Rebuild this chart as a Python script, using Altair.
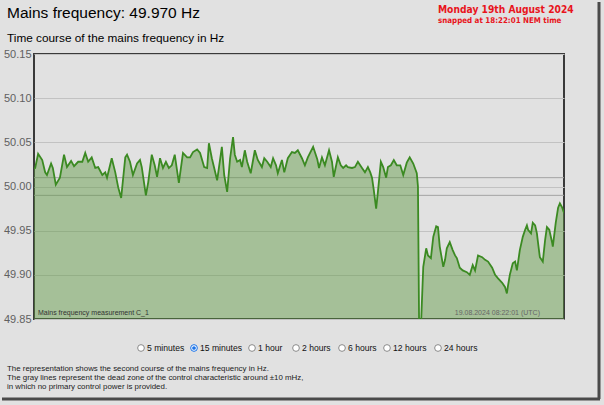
import altair as alt
import pandas as pd

# ---- data ----
seconds = [0, 2, 7, 14, 19, 22, 29, 32, 37, 44, 51, 56, 63, 68, 75, 82, 87, 92, 98, 104,
           109, 116, 121, 124, 132, 138, 143, 148, 155, 158, 163, 168, 175, 180, 183, 190,
           194, 200, 205, 209, 214, 219, 224, 229, 234, 239, 246, 253, 260, 265, 270, 277,
           282, 289, 294, 297, 302, 311, 314, 319, 323, 328, 333, 338, 341, 345, 350, 353,
           358, 362, 368, 375, 380, 387, 391, 396, 402, 406, 411, 414, 421, 425, 431, 438,
           443, 448, 455, 460, 465, 474, 481, 484, 489, 494, 501, 506, 509, 516, 521, 525,
           530, 533, 540, 545, 550, 557, 562, 567, 571, 574, 577, 581, 584, 589, 593, 598,
           601, 606, 611, 616, 622, 627, 633, 638, 644, 650, 652, 654, 657, 661, 666, 669,
           674, 678, 683, 686, 689, 695, 698, 701, 706, 711, 715, 718, 723, 728, 735, 740,
           745, 749, 754, 761, 766, 771, 778, 783, 788, 795, 800, 803, 805, 808, 813, 817,
           820, 825, 830, 834, 837, 839, 844, 847, 851, 854, 856, 859, 864, 868, 871, 875,
           880, 881, 886, 890, 893, 897, 900]
freq = [50.020, 50.021, 50.037, 50.030, 50.016, 50.013, 50.026, 50.021, 50.002, 50.010,
        50.036, 50.022, 50.029, 50.023, 50.028, 50.028, 50.038, 50.028, 50.033, 50.021,
        50.022, 50.013, 50.016, 50.010, 50.032, 50.016, 49.999, 49.987, 50.033, 50.036,
        50.028, 50.013, 50.026, 50.030, 50.022, 49.990, 50.005, 50.036, 50.024, 50.011,
        50.032, 50.021, 50.028, 50.021, 50.024, 50.036, 50.004, 50.038, 50.033, 50.033,
        50.039, 50.042, 50.038, 50.022, 50.021, 50.049, 50.032, 50.007, 50.021, 50.045,
        50.013, 49.994, 50.032, 50.056, 50.036, 50.028, 50.030, 50.022, 50.041, 50.028,
        50.015, 50.041, 50.030, 50.022, 50.032, 50.028, 50.022, 50.032, 50.024, 50.015,
        50.030, 50.016, 50.032, 50.039, 50.038, 50.041, 50.032, 50.024, 50.033, 50.045,
        50.031, 50.021, 50.033, 50.024, 50.041, 50.028, 50.011, 50.033, 50.024, 50.021,
        50.024, 50.022, 50.021, 50.022, 50.028, 50.021, 50.016, 50.022, 50.016, 50.010,
        49.996, 49.975, 49.994, 50.028, 50.022, 50.010, 50.022, 50.024, 50.030, 50.024,
        50.024, 50.013, 50.027, 50.033, 50.026, 50.015, 50.000, 49.840, 49.840, 49.909,
        49.930, 49.922, 49.919, 49.943, 49.955, 49.954, 49.932, 49.909, 49.917, 49.930,
        49.937, 49.928, 49.922, 49.919, 49.908, 49.905, 49.903, 49.900, 49.911, 49.905,
        49.922, 49.920, 49.917, 49.915, 49.908, 49.900, 49.896, 49.891, 49.886, 49.879,
        49.888, 49.900, 49.913, 49.915, 49.905, 49.928, 49.943, 49.951, 49.956, 49.951,
        49.947, 49.959, 49.956, 49.947, 49.936, 49.920, 49.915, 49.940, 49.954, 49.951,
        49.936, 49.932, 49.959, 49.976, 49.981, 49.976, 49.970]
dead_zone = [50.01, 49.99]
y_ticks = [49.85, 49.90, 49.95, 50.00, 50.05, 50.10, 50.15]
radio_labels = ["5 minutes", "15 minutes", "1 hour", "2 hours", "6 hours", "12 hours", "24 hours"]
selected = "15 minutes"

df = pd.DataFrame({"t": seconds, "f": freq})
dz = pd.DataFrame({"f": dead_zone})

W, H = 530, 265
BG = "#e1e1e1"
FONT = "Liberation Sans"

x_enc = alt.X("t:Q", scale=alt.Scale(domain=[0, 900], nice=False), axis=None)
y_scale = alt.Scale(domain=[49.85, 50.15], nice=False, zero=False)
y_axis = alt.Axis(values=y_ticks, format=".2f", grid=True, gridColor="#c2c2c2",
                  domain=False, ticks=False, labelColor="#606060", labelFontSize=11,
                  labelFont=FONT, labelPadding=3, title=None)

base = alt.Chart(df)
area = base.mark_area(color="#5d9a40", opacity=0.45, clip=True).encode(
    x=x_enc, y=alt.Y("f:Q", scale=y_scale, axis=y_axis))
line = base.mark_line(color="#3b8a22", strokeWidth=1.8, clip=True).encode(
    x=x_enc, y=alt.Y("f:Q", scale=y_scale))
rules = alt.Chart(dz).mark_rule(color="#a3a3a3", strokeWidth=1).encode(
    y=alt.Y("f:Q", scale=y_scale))

one = alt.Data(values=[{"a": 1}])

def txt(text, x, y, size, color="#000000", weight="normal", align="left",
        baseline="alphabetic", font=FONT):
    return alt.Chart(one).mark_text(
        text=text, fontSize=size, color=color, fontWeight=weight, align=align,
        baseline=baseline, font=font).encode(x=alt.value(x), y=alt.value(y))

layers = [rules, area, line]

# headings (positions relative to the plot origin)
layers.append(txt("Mains frequency: 49.970 Hz", -27, -36, 15.5))
layers.append(txt("Time course of the mains frequency in Hz", -27, -12, 11.8))
layers.append(txt("Monday 19th August 2024", 404, -44, 10.2, color="#e8141c",
                  weight="bold", baseline="middle", font="DejaVu Sans Condensed"))
layers.append(txt("snapped at 18:22:01 NEM time", 404, -33, 7.9, color="#e8141c",
                  weight="bold", baseline="middle", font="DejaVu Sans Condensed"))
# in-plot captions
layers.append(txt("Mains frequency measurement C_1", 4, 259, 7, color="#333333",
                  baseline="middle"))
layers.append(txt("19.08.2024 08:22:01 (UTC)", 506, 259, 7, color="#666666",
                  align="right", baseline="middle"))

# radio buttons row
circle_x = [107, 160, 218, 262, 308, 353, 404]
ry = 294
for lab, cx in zip(radio_labels, circle_x):
    is_sel = lab == selected
    layers.append(alt.Chart(one).mark_point(
        shape="circle", size=45, filled=True, fill="#ffffff",
        stroke="#1a73e8" if is_sel else "#8a8a8a", strokeWidth=1, opacity=1
    ).encode(x=alt.value(cx), y=alt.value(ry)))
    if is_sel:
        layers.append(alt.Chart(one).mark_point(
            shape="circle", size=14, filled=True, color="#1a73e8", opacity=1
        ).encode(x=alt.value(cx), y=alt.value(ry)))
    layers.append(txt(lab, cx + 6, ry, 8.6, color="#111111", baseline="middle"))

# footnote
notes = ["The representation shows the second course of the mains frequency in Hz.",
         "The gray lines represent the dead zone of the control characteristic around \u00b110 mHz,",
         "in which no primary control power is provided."]
for i, n in enumerate(notes):
    layers.append(txt(n, -27, 315 + 9.2 * i, 7.9, color="#222222", baseline="middle"))

# screenshot frame shadow (right and bottom)
layers.append(alt.Chart(one).mark_rule(color="#4a4a4a", strokeWidth=3).encode(
    x=alt.value(565), y=alt.value(-52), y2=alt.value(345)))
layers.append(alt.Chart(one).mark_rule(color="#4a4a4a", strokeWidth=3).encode(
    x=alt.value(-32), x2=alt.value(566), y=alt.value(345)))

chart = alt.layer(*layers).properties(
    width=W, height=H, background=BG,
    padding={"left": 34, "top": 54, "right": 40, "bottom": 86},
    autosize=alt.AutoSizeParams(type="none"),
).configure_view(stroke="#3a3a3a", strokeWidth=2)

chart.save("out.html", embed_options={"renderer": "svg", "actions": False})
